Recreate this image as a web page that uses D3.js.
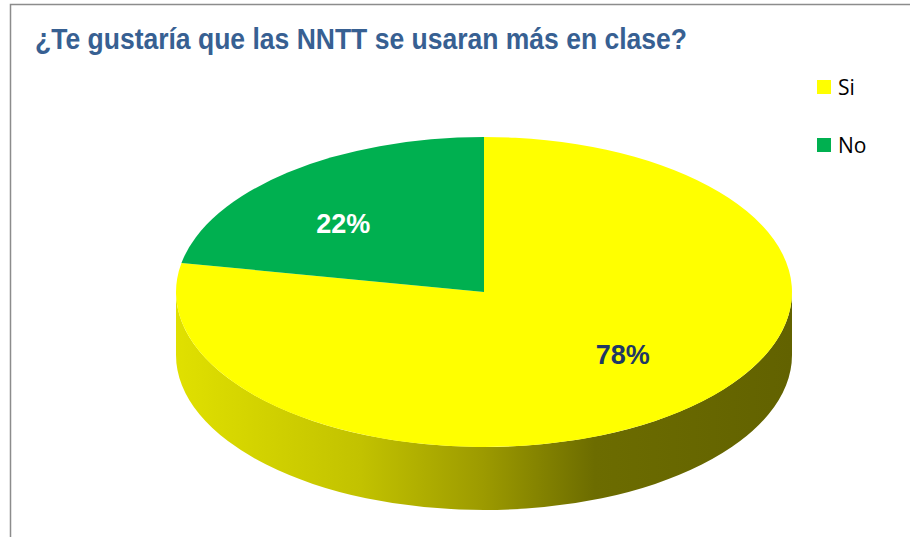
<!DOCTYPE html>
<html>
<head>
<meta charset="utf-8">
<script src="https://cdn.jsdelivr.net/npm/d3@7"></script>
<style>
	body { margin: 0; background: #fff; }
	svg { display: block; }
</style>
</head>
<body>
<svg width="910" height="537"></svg>
<script>
var titleText = "¿Te gustaría que las NNTT se usaran más en clase?";
var categories = ["Si", "No"];
var values = [78, 22];
var labels = ["78%", "22%"];

var width = 910,
	height = 537,
	cx = 484,
	cy = 292,
	rx = 308,
	ry = 155,
	depth = 63;

var colors = d3.scaleOrdinal()
	.domain(categories)
	.range(["#ffff00", "#00b050"]);

var labelColors = d3.scaleOrdinal()
	.domain(categories)
	.range(["#1f3864", "#ffffff"]);

// where along each slice the label sits (0 = start angle, 1 = end angle)
var labelPos = d3.scaleOrdinal()
	.domain(categories)
	.range([0.475, 0.40]);

var svg = d3.select("svg");

// chart frame, cut off at right and bottom
svg.append("path")
	.attr("d", "M10.5," + height + "V4.5H" + width)
	.attr("fill", "none")
	.attr("stroke", "#8c8c8c")
	.attr("stroke-width", 1.5);

svg.append("text")
	.attr("x", 35)
	.attr("y", 49)
	.attr("textLength", 652)
	.attr("lengthAdjust", "spacingAndGlyphs")
	.style("font-family", "'Liberation Sans Narrow', 'Arial Narrow', 'Liberation Sans', Arial, sans-serif")
	.style("font-weight", "bold")
	.style("font-size", "29px")
	.style("fill", "#376092")
	.text(titleText);

var defs = svg.append("defs");
var grad = defs.append("linearGradient")
	.attr("id", "sideGrad")
	.attr("gradientUnits", "userSpaceOnUse")
	.attr("x1", cx - rx).attr("y1", 0)
	.attr("x2", cx + rx).attr("y2", 0);
[[0, "#e0e000"], [0.3, "#c2c200"], [0.5, "#9c9a00"], [0.68, "#6c6c00"], [1, "#626200"]]
	.forEach(function(s){
		grad.append("stop").attr("offset", s[0]).attr("stop-color", s[1]);
	});

var pie = d3.pie().sort(null).value(function(d){ return d.value; });
var slices = pie(categories.map(function(c, i){ return {cat: c, value: values[i], label: labels[i]}; }));

function pt(a, dy) {
	return [cx + rx * Math.sin(a), cy - ry * Math.cos(a) + (dy || 0)];
}

// side wall of the pie: only the front half is visible
function sidePath(d) {
	var a0 = Math.max(d.startAngle, Math.PI / 2),
		a1 = Math.min(d.endAngle, 3 * Math.PI / 2);
	if (a1 <= a0) return null;
	var p0 = pt(a0), p1 = pt(a1), q0 = pt(a0, depth), q1 = pt(a1, depth);
	return "M" + p0 + "L" + q0 +
		"A" + rx + "," + ry + " 0 0 1 " + q1 +
		"L" + p1 +
		"A" + rx + "," + ry + " 0 0 0 " + p0 + "Z";
}

function topPath(d) {
	var p0 = pt(d.startAngle), p1 = pt(d.endAngle),
		large = (d.endAngle - d.startAngle) > Math.PI ? 1 : 0;
	return "M" + cx + "," + cy + "L" + p0 +
		"A" + rx + "," + ry + " 0 " + large + " 1 " + p1 + "Z";
}

function labelAngle(d) {
	return d.startAngle + (d.endAngle - d.startAngle) * labelPos(d.data.cat);
}

var pieG = svg.append("g").attr("class", "pie");

pieG.selectAll("path.side")
	.data(slices.filter(function(d){ return sidePath(d) != null; }))
	.enter().append("path")
	.attr("class", "side")
	.attr("d", sidePath)
	.attr("fill", "url(#sideGrad)");

pieG.selectAll("path.top")
	.data(slices)
	.enter().append("path")
	.attr("class", "top")
	.attr("d", topPath)
	.attr("fill", function(d){ return colors(d.data.cat); });

pieG.selectAll("text.lbl")
	.data(slices)
	.enter().append("text")
	.attr("class", "lbl")
	.attr("x", function(d){ return cx + 0.62 * rx * Math.sin(labelAngle(d)); })
	.attr("y", function(d){ return cy - 0.62 * ry * Math.cos(labelAngle(d)) + 6; })
	.attr("text-anchor", "middle")
	.style("font-family", "'Liberation Sans', Arial, sans-serif")
	.style("font-weight", "bold")
	.style("font-size", "27px")
	.style("fill", function(d){ return labelColors(d.data.cat); })
	.text(function(d){ return d.data.label; });

var legend = svg.append("g").attr("class", "legend");
var item = legend.selectAll("g")
	.data(categories)
	.enter().append("g")
	.attr("transform", function(d, i){ return "translate(817," + (80 + i * 58) + ")"; });

item.append("rect")
	.attr("width", 14)
	.attr("height", 14)
	.attr("fill", function(d){ return colors(d); });

item.append("text")
	.attr("x", 21)
	.attr("y", 15)
	.style("font-family", "'Open Sans', 'Liberation Sans', sans-serif")
	.style("font-size", "21px")
	.style("fill", "#000")
	.text(function(d){ return d; });
</script>
</body>
</html>
